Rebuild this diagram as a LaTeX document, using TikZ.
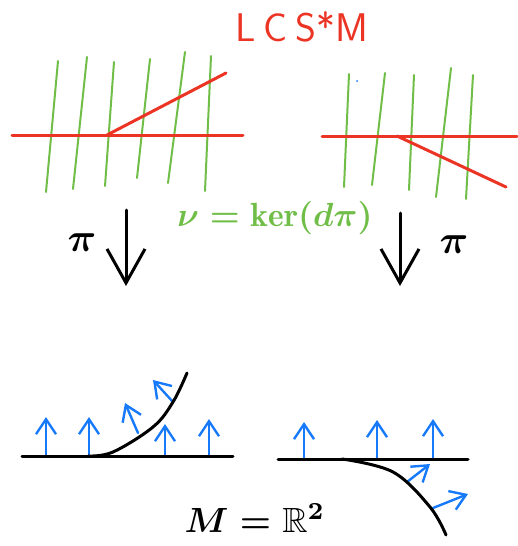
\documentclass[tikz,border=0pt]{standalone}
\usepackage{fontspec}
\usepackage{amssymb}
\usetikzlibrary{arrows.meta}
\definecolor{cred}{RGB}{236,52,36}
\definecolor{cgreen}{RGB}{112,190,72}
\definecolor{cblue}{RGB}{22,122,250}
\tikzset{
  redline/.style={cred,line width=3pt,line cap=round},
  greenline/.style={cgreen,line width=2pt,line cap=round},
  baseline/.style={black,line width=3pt,line cap=round},
  blackcurve/.style={black,line width=3pt,line cap=round},
  bluearrow/.style={cblue,line width=2.4pt,line cap=round,line join=round,-{Straight Barb[length=15pt,width=20pt]}},
  projarrow/.style={black,line width=3pt,line cap=round,line join=round,-{Straight Barb[length=34pt,width=38pt]}},
  lbl/.style={inner sep=0pt}
}
\begin{document}
\begin{tikzpicture}[x=1pt,y=-1pt]
\useasboundingbox (0,0) rectangle (517,546);
% title
\node[lbl,cred,font=\fontsize{40}{46}\selectfont\sffamily] (title) at (302,27) {L\hspace{8pt}C\hspace{8pt}S*M};
% top left panel
\foreach \a/\b/\c/\d in {58/61/46/192, 87/57/73/189, 114/62/105/186, 150/59/137/178, 185/52/168/183, 211/56/205/191}
  \draw[greenline] (\a,\b) -- (\c,\d);
\draw[redline] (12,135) -- (243,135);
\draw[redline] (107,135) -- (226,73);
% top right panel
\foreach \a/\b/\c/\d in {349/74/344/187, 385/73/372/185, 414/75/409/190, 451/68/436/197, 473/75/466/199}
  \draw[greenline] (\a,\b) -- (\c,\d);
\draw[redline] (322,136) -- (517,136);
\draw[redline] (397,136) -- (506,187);
\fill[cblue] (357,81) circle (1pt);
% kernel label
\node[lbl,cgreen] (nu) at (275,218) {\scalebox{3.35}{\boldmath$\nu=\ker(d\pi)$}};
% projection arrows
\coordinate (aLs) at (126,210); \coordinate (aLe) at (126,286);
\coordinate (aRs) at (400,213); \coordinate (aRe) at (400,286);
\draw[projarrow] (aLs) -- (aLe);
\draw[projarrow] (aRs) -- (aRe);
\node[lbl] (piL) at (82,243) {\scalebox{4}{\boldmath$\pi$}};
\node[lbl] (piR) at (454,245) {\scalebox{4}{\boldmath$\pi$}};
% bottom left panel
\foreach \x/\t in {46/417, 89/417, 165/424, 209/419}
  \draw[bluearrow] (\x,456) -- (\x,\t);
\draw[bluearrow] (138,433) -- (125,403);
\draw[bluearrow] (173,402) -- (153,380);
\draw[baseline] (22,456) -- (233,456);
\draw[blackcurve] plot[smooth,tension=0.6] coordinates {(88,456) (113,452) (153,427) (173,402) (187,373)};
% bottom right panel
\foreach \x/\t in {304/422, 377/420, 433/419}
  \draw[bluearrow] (\x,459) -- (\x,\t);
\draw[bluearrow] (407,482) -- (430,464);
\draw[bluearrow] (433,508) -- (468,494);
\draw[baseline] (278,459) -- (468,459);
\draw[blackcurve] plot[smooth,tension=0.6] coordinates {(342,459) (393,472) (430,507) (446,535)};
% base label
\node[lbl] (mR2) at (255,518) {\scalebox{3.5}{\boldmath$M=\mathbb{R}^2$}};
\end{tikzpicture}
\end{document}
